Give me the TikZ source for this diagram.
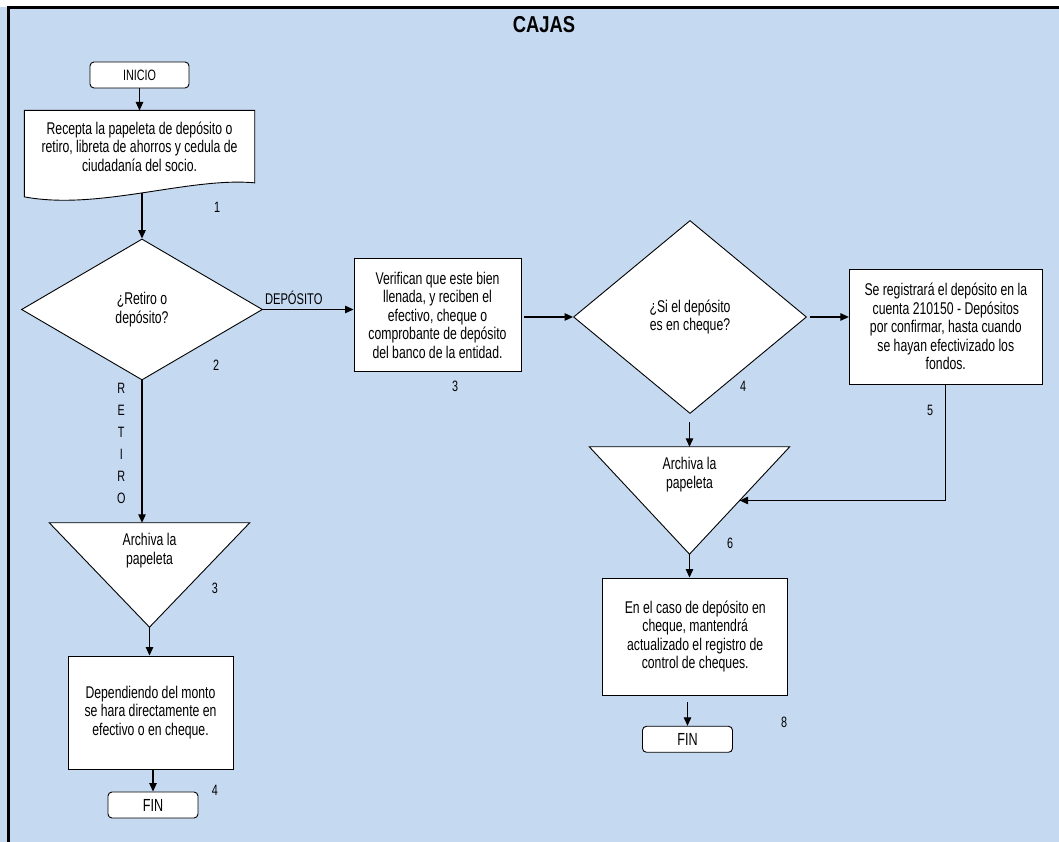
\documentclass[tikz,border=0pt]{standalone}
\usepackage{fontspec}
\setmainfont{Liberation Sans}[FakeStretch=0.72]
\newfontfamily\titulofont{Liberation Sans}[FakeStretch=0.8]
\usetikzlibrary{arrows.meta,positioning,calc,shapes.geometric,backgrounds}
\definecolor{cajaAzul}{HTML}{C5D9F1}

\begin{document}
\begin{tikzpicture}[
    x=1pt, y=1pt,
    font=\fontsize{17}{18.5}\selectfont,
    paso/.style={draw, fill=white, line width=0.9pt, align=center, inner sep=2pt},
    term/.style={paso, rounded corners=4pt, minimum width=90pt, minimum height=26pt,
                 font=\fontsize{17.5}{19}\selectfont},
    decis/.style={paso, diamond, inner sep=0pt},
    tri/.style={align=center, inner sep=0pt, minimum width=200pt, minimum height=55pt},
    num/.style={font=\fontsize{15}{16}\selectfont},
    arr/.style={-{Triangle[length=8.5pt, width=7.5pt]}, line width=1.1pt}
  ]
  \useasboundingbox (0,0) rectangle (1059,842);
  \begin{scope}[on background layer]
    \fill[cajaAzul] (0,0) rectangle (1059,835);
  \end{scope}
  \draw[line width=2.5pt] (8.5,0) -- (8.5,834.7) -- (1059,834.7);

  \node[font=\titulofont\bfseries\fontsize{23}{24}\selectfont] (titulo) at (544,817) {CAJAS};

  % retiro
  \node[term, minimum width=99pt, font=\fontsize{15}{16}\selectfont] (inicio) at (139.5,767) {INICIO};
  \node[align=center, minimum width=230pt, minimum height=72pt, inner sep=0pt,
        below=22pt of inicio] (recep) {Recepta la papeleta de depósito o\\retiro, libreta de ahorros y cedula de\\ciudadanía del socio.};
  \begin{scope}[on background layer]
    \draw[fill=white, line width=0.9pt] ($(recep.south west)+(0,-14)$) -- (recep.north west)
      -- (recep.north east) -- (recep.south east)
      .. controls ($(recep.south east)+(-66,6)$) and ($(recep.south west)+(74,-28)$)
      .. ($(recep.south west)+(0,-14)$) -- cycle;
  \end{scope}
  \draw[arr] (inicio) -- (recep);
  \node[num] (n1) at (217,635) {1};

  \node[decis, minimum width=241pt, minimum height=141pt] (tipo) at (142,532.5) {¿Retiro o\\depósito?};
  \coordinate (recep out) at ($(recep.south -| tipo.north)+(0,-10)$);
  \draw[arr] (recep out) -- (tipo.north);
  \node[num] (n2) at (216,477) {2};

  \node[tri] (arch1) at (149.5,291.5) {Archiva la\\papeleta};
  \coordinate (arch1 tip) at ($(arch1.south)+(0,-49)$);
  \begin{scope}[on background layer]
    \draw[fill=white, line width=0.9pt] (arch1.north west) -- (arch1.north east) -- (arch1 tip) -- cycle;
  \end{scope}
  \draw[arr] (tipo.south) -- node[pos=0.44, left=16pt, inner sep=0pt, align=center,
        font=\fontsize{15}{22}\selectfont] (retiro) {R\\E\\T\\I\\R\\O} (tipo.south |- arch1.north);
  \node[num] (n3a) at (215,254) {3};

  \node[paso, minimum width=165pt, minimum height=113pt] (monto) at (150.5,129.5) {Dependiendo del monto\\se hara directamente en\\efectivo o en cheque.};
  \draw[arr] (arch1 tip) -- (arch1 tip |- monto.north);
  \node[term] (fin1) at (153,37) {FIN};
  \draw[arr] (monto.south -| fin1) -- (fin1.north);
  \node[num] (n4a) at (215,52) {4};

  % deposito
  \node[paso, minimum width=167pt, minimum height=113pt] (verif) at (437.5,527) {Verifican que este bien\\llenada, y reciben el\\efectivo, cheque o\\comprobante de depósito\\del banco de la entidad.};
  \draw[arr] (tipo.east) -- (tipo.east -| verif.west) node[num, font=\fontsize{15.5}{16}\selectfont, pos=0.34, above=1pt] (dep) {DEPÓSITO};
  \node[num] (n3b) at (455,455.3) {3};

  \node[decis, minimum width=233pt, minimum height=193pt] (cheq) at (690,525) {¿Si el depósito\\es en cheque?};
  \draw[arr] ($(verif.east |- cheq.west)+(3,0)$) -- (cheq.west);
  \node[num] (n4b) at (743,455.3) {4};

  \node[paso, minimum width=193pt, minimum height=115pt] (regis) at (945.8,515.3) {Se registrará el depósito en la\\cuenta 210150 - Depósitos\\por confirmar, hasta cuando\\se hayan efectivizado los\\fondos.};
  \draw[arr] ($(cheq.east)+(3,0)$) -- (cheq.east -| regis.west);
  \node[num] (n5) at (930,432) {5};

  \node[tri] (arch2) at (689.5,367.5) {Archiva la\\papeleta};
  \coordinate (arch2 tip) at ($(arch2.south)+(0,-52)$);
  \coordinate (arch2 in) at ($(arch2.north east)!0.5!(arch2 tip)$);
  \begin{scope}[on background layer]
    \draw[fill=white, line width=0.9pt] (arch2.north west) -- (arch2.north east) -- (arch2 tip) -- cycle;
  \end{scope}
  \draw[arr] ($(cheq.south -| arch2.north)+(0,-8)$) -- (arch2.north);
  \draw[arr] (regis.south) |- (arch2 in);
  \node[num] (n6) at (730,299) {6};

  \node[paso, minimum width=185pt, minimum height=117pt] (ctrl) at (695.2,205.5) {En el caso de depósito en\\cheque, mantendrá\\actualizado el registro de\\control de cheques.};
  \draw[arr] (arch2 tip) -- (arch2 tip |- ctrl.north);
  \node[term] (fin2) at (687.5,102.7) {FIN};
  \draw[arr] ($(ctrl.south -| fin2)+(0,-7)$) -- (fin2.north);
  \node[num] (n8) at (784,120) {8};
\end{tikzpicture}
\end{document}
